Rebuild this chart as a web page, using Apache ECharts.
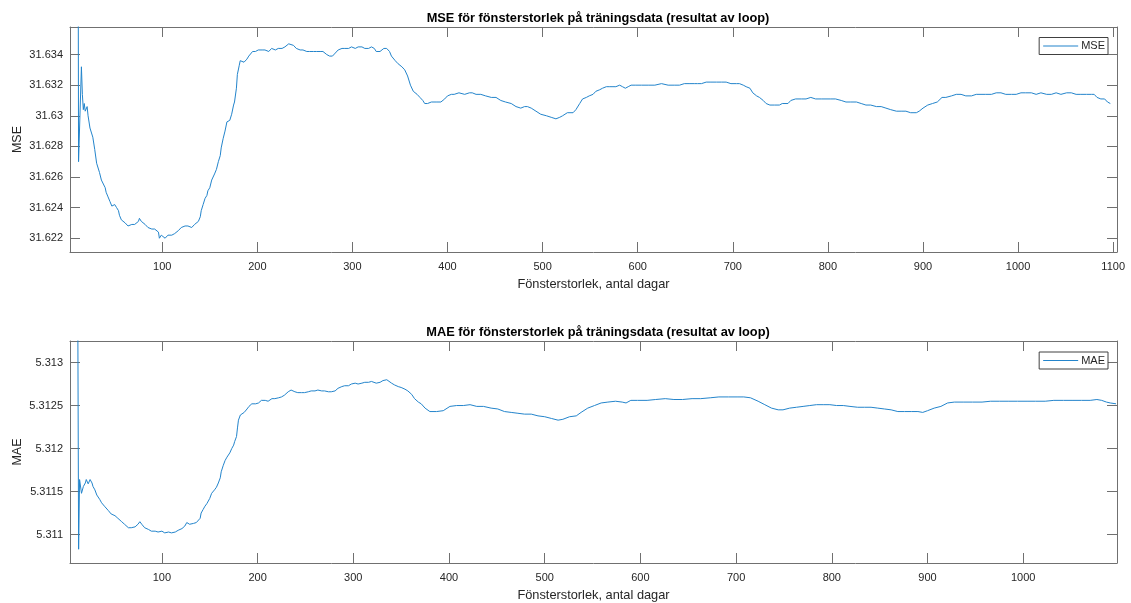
<!DOCTYPE html>
<html><head><meta charset="utf-8">
<script src="https://cdn.jsdelivr.net/npm/echarts@6/dist/echarts.min.js"></script>
<style>html,body{margin:0;padding:0;background:#fff}#c{width:1131px;height:603px}</style>
</head><body><div id="c"></div>
<script>
// ---- data ----
const mseWindow = [4,11,12,15,16,17,18,19,21,22,24,26,27,29,31,33,34,36,38,40,41,43,45,47,48,50,52,54,55,57,59,61,62,64,66,68,69,71,73,75,76,78,80,82,83,85,87,89,90,92,94,96,97,99,101,103,105,106,108,110,112,113,115,117,119,120,122,124,126,127,129,131,133,134,136,138,140,141,143,145,147,148,150,152,154,155,157,159,161,162,164,166,168,169,171,173,175,176,178,179,181,182,184,186,188,189,191,193,195,196,198,201,205,208,212,215,219,222,226,229,233,235,238,241,245,248,252,255,259,262,266,269,273,276,279,282,285,289,292,296,299,303,306,310,313,317,320,323,325,327,329,331,333,336,339,341,345,348,352,355,358,361,364,368,371,374,376,379,383,388,393,397,400,404,407,412,418,423,426,430,435,440,446,451,456,461,467,472,477,481,484,488,493,498,504,509,514,518,521,526,532,535,539,542,546,549,553,556,560,563,567,570,574,577,581,584,587,590,593,598,604,611,618,625,632,639,644,649,654,660,663,667,672,677,683,688,693,698,704,707,711,714,718,721,725,728,732,735,739,744,749,752,758,761,766,772,777,782,787,793,798,803,808,814,819,824,830,835,840,845,851,856,861,866,872,877,882,887,893,896,900,905,910,915,920,924,930,935,940,945,951,956,961,966,972,977,982,987,993,998,1003,1008,1014,1019,1024,1030,1035,1040,1045,1051,1056,1061,1066,1072,1077,1080,1083,1087,1091,1094,1097];
const mseValues = [31.66,31.66,31.6270,31.6332,31.6314,31.6304,31.6308,31.6303,31.6306,31.6300,31.6292,31.6293,31.6286,31.6278,31.6269,31.6268,31.6263,31.6258,31.6258,31.6253,31.6250,31.6247,31.6244,31.6241,31.6240,31.6242,31.6240,31.6238,31.6235,31.6232,31.6231,31.6230,31.6229,31.6228,31.6229,31.6229,31.6230,31.6229,31.6230,31.6231,31.6233,31.6231,31.6230,31.6229,31.6228,31.6227,31.6227,31.6226,31.6227,31.6226,31.6225,31.6224,31.6220,31.6222,31.6223,31.6220,31.6219,31.6222,31.6221,31.6222,31.6221,31.6223,31.6224,31.6225,31.6226,31.6227,31.6228,31.6228,31.6229,31.6228,31.6228,31.6227,31.6228,31.6229,31.6230,31.6231,31.6234,31.6238,31.6242,31.6246,31.6248,31.6251,31.6253,31.6258,31.6259,31.6262,31.6265,31.6270,31.6274,31.6279,31.6285,31.6290,31.6296,31.6297,31.6297,31.6301,31.6307,31.6309,31.6318,31.6327,31.6333,31.6336,31.6335,31.6335,31.6336,31.6337,31.6339,31.6340,31.6342,31.6341,31.6342,31.6343,31.6343,31.6343,31.6342,31.6344,31.6343,31.6344,31.6344,31.6345,31.6347,31.6347,31.6346,31.6344,31.6343,31.6343,31.6342,31.6342,31.6342,31.6342,31.6342,31.6342,31.6340,31.6339,31.6339,31.6341,31.6343,31.6344,31.6344,31.6344,31.6345,31.6344,31.6345,31.6345,31.6344,31.6344,31.6345,31.6344,31.6342,31.6343,31.6342,31.6343,31.6344,31.6344,31.6342,31.6339,31.6336,31.6334,31.6332,31.6330,31.6326,31.6320,31.6316,31.6314,31.6312,31.6310,31.6308,31.6308,31.6309,31.6309,31.6309,31.6311,31.6313,31.6314,31.6314,31.6315,31.6314,31.6315,31.6315,31.6314,31.6314,31.6313,31.6312,31.6312,31.6310,31.6309,31.6308,31.6306,31.6305,31.6306,31.6306,31.6305,31.6303,31.6301,31.6300,31.6299,31.6298,31.6299,31.6300,31.6302,31.6302,31.6304,31.6308,31.6311,31.6312,31.6313,31.6314,31.6316,31.6317,31.6318,31.6319,31.6319,31.6319,31.6319,31.6320,31.6319,31.6318,31.6319,31.6320,31.6320,31.6320,31.6320,31.6320,31.6321,31.6320,31.6320,31.6320,31.6321,31.6321,31.6321,31.6321,31.6321,31.6322,31.6322,31.6322,31.6322,31.6322,31.6321,31.6321,31.6321,31.6320,31.6319,31.6318,31.6315,31.6313,31.6312,31.6310,31.6308,31.6307,31.6307,31.6307,31.6308,31.6308,31.6310,31.6311,31.6311,31.6311,31.6312,31.6311,31.6311,31.6311,31.6311,31.6311,31.6310,31.6309,31.6309,31.6309,31.6308,31.6307,31.6307,31.6306,31.6306,31.6305,31.6304,31.6303,31.6303,31.6303,31.6302,31.6302,31.6303,31.6305,31.6307,31.6308,31.6309,31.6312,31.6312,31.6313,31.6314,31.6314,31.6313,31.6313,31.6314,31.6314,31.6314,31.6314,31.6315,31.6315,31.6314,31.6314,31.6314,31.6315,31.6315,31.6315,31.6314,31.6315,31.6314,31.6314,31.6315,31.6314,31.6315,31.6315,31.6314,31.6314,31.6314,31.6314,31.6314,31.6312,31.6311,31.6311,31.6309,31.6308];
const maeWindow = [4,12,13,14,16,18,20,21,23,25,27,28,30,32,33,35,37,39,40,42,44,46,47,49,51,53,54,56,58,60,61,63,65,67,68,70,72,74,75,77,79,81,82,84,86,87,89,91,93,94,96,98,100,101,103,105,107,108,110,112,114,115,117,119,121,122,124,126,128,129,131,133,134,136,138,140,141,143,145,147,148,150,152,154,155,157,159,161,162,164,166,168,169,171,173,175,176,178,179,180,182,184,186,187,189,191,193,194,196,198,201,204,208,211,215,218,222,225,228,232,235,239,242,246,249,253,256,260,263,267,270,274,277,281,284,288,291,295,298,302,305,309,312,316,319,321,324,328,331,335,337,340,343,347,350,354,357,361,364,368,371,375,380,387,394,401,408,415,422,429,436,444,451,458,465,472,479,486,493,500,507,514,519,526,533,538,545,552,559,566,574,581,585,590,597,607,616,626,635,644,654,663,673,682,692,701,708,715,723,730,737,744,749,756,763,770,777,784,791,798,805,812,819,827,834,841,848,855,862,869,876,883,890,895,900,907,914,921,928,938,947,957,966,975,985,994,1004,1013,1023,1032,1042,1051,1061,1070,1077,1082,1087,1091,1097];
const maeValues = [5.3140,5.3140,5.31083,5.31164,5.31148,5.31156,5.31160,5.31164,5.31159,5.31164,5.31160,5.31156,5.31152,5.31146,5.31144,5.31141,5.31137,5.31136,5.31133,5.31131,5.31128,5.31126,5.31124,5.31124,5.31122,5.31121,5.31119,5.31117,5.31115,5.31114,5.31112,5.31110,5.31108,5.31109,5.31108,5.31110,5.31109,5.31110,5.31112,5.31115,5.31112,5.31110,5.31108,5.31107,5.31106,5.31105,5.31104,5.31105,5.31104,5.31103,5.31103,5.31102,5.31104,5.31103,5.31102,5.31100,5.31103,5.31103,5.31102,5.31102,5.31103,5.31104,5.31105,5.31107,5.31107,5.31109,5.31110,5.31114,5.31112,5.31112,5.31113,5.31113,5.31113,5.31114,5.31115,5.31119,5.31125,5.31129,5.31133,5.31136,5.31138,5.31142,5.31148,5.31149,5.31152,5.31155,5.31160,5.31166,5.31173,5.31180,5.31186,5.31190,5.31191,5.31195,5.31200,5.31204,5.31208,5.31214,5.31224,5.31233,5.31239,5.31241,5.31242,5.31243,5.31246,5.31249,5.31249,5.31252,5.31251,5.31252,5.31253,5.31256,5.31256,5.31255,5.31258,5.31258,5.31259,5.31260,5.31262,5.31266,5.31268,5.31266,5.31265,5.31265,5.31265,5.31266,5.31267,5.31267,5.31268,5.31267,5.31267,5.31266,5.31266,5.31267,5.31270,5.31272,5.31273,5.31273,5.31275,5.31276,5.31275,5.31276,5.31277,5.31277,5.31278,5.31278,5.31276,5.31277,5.31279,5.31280,5.31279,5.31276,5.31274,5.31272,5.31271,5.31269,5.31267,5.31263,5.31258,5.31254,5.31252,5.31247,5.31243,5.31243,5.31244,5.31249,5.31250,5.31250,5.31251,5.31249,5.31249,5.31247,5.31246,5.31243,5.31242,5.31241,5.31240,5.31240,5.31238,5.31237,5.31235,5.31233,5.31234,5.31237,5.31238,5.31242,5.31247,5.31250,5.31253,5.31254,5.31255,5.31254,5.31253,5.31256,5.31256,5.31256,5.31257,5.31258,5.31257,5.31257,5.31258,5.31258,5.31259,5.31260,5.31260,5.31260,5.31260,5.31259,5.31255,5.31251,5.31247,5.31245,5.31245,5.31247,5.31248,5.31249,5.31250,5.31251,5.31251,5.31251,5.31250,5.31250,5.31249,5.31248,5.31248,5.31248,5.31247,5.31246,5.31245,5.31243,5.31243,5.31243,5.31243,5.31242,5.31244,5.31247,5.31249,5.31253,5.31254,5.31254,5.31254,5.31254,5.31255,5.31255,5.31255,5.31255,5.31255,5.31255,5.31255,5.31256,5.31256,5.31256,5.31256,5.31256,5.31257,5.31256,5.31254,5.31253,5.31252];
const titles = ['MSE för fönsterstorlek på träningsdata (resultat av loop)', 'MAE för fönsterstorlek på träningsdata (resultat av loop)'];
const seriesNames = ['MSE', 'MAE'];
const xAxisName = 'Fönsterstorlek, antal dagar';
const xRanges = [[3, 1104], [4, 1098]];
const yRanges = [[31.6211, 31.6358], [5.31067, 5.31325]];
const xTickStep = 100;
const yTickSteps = [0.002, 0.0005];

// ---- chart ----
const FONT = '"Liberation Sans", Arial, Helvetica, sans-serif';
const TXT = '#262626';
const AX = '#707070';
const LINE = '#2384cb';
const grids = [
  {left: 70, top: 27, width: 1047, height: 225, outerBoundsMode: 'none', containLabel: false},
  {left: 70, top: 341, width: 1047, height: 222, outerBoundsMode: 'none', containLabel: false}
];
const fmtY = v => String(parseFloat(Number(v).toFixed(6)));

const xAxes = [], yAxes = [], series = [], legends = [], titleArr = [];
const dataSets = [[mseWindow, mseValues], [maeWindow, maeValues]];
for (let i = 0; i < 2; i++) {
  const baseX = {
    type: 'value', gridIndex: i, min: xRanges[i][0], max: xRanges[i][1],
    minInterval: xTickStep, maxInterval: xTickStep, splitNumber: 11,
    splitLine: {show: false},
    axisLine: {show: true, onZero: false, lineStyle: {color: AX, width: 1}},
    axisTick: {show: true, inside: true, length: 10, lineStyle: {color: AX, width: 1}}
  };
  xAxes.push(Object.assign({}, baseX, {
    position: 'bottom',
    axisLabel: {show: true, margin: 9, color: TXT, fontSize: 11, fontFamily: FONT,
      showMinLabel: false, showMaxLabel: false, formatter: v => String(Math.round(v))},
    name: xAxisName, nameLocation: 'middle', nameGap: 26,
    nameTextStyle: {color: TXT, fontSize: 12.8, fontFamily: FONT}
  }));
  xAxes.push(Object.assign({}, baseX, {position: 'top', axisLabel: {show: false}}));
  const baseY = {
    type: 'value', gridIndex: i, min: yRanges[i][0], max: yRanges[i][1],
    minInterval: yTickSteps[i], maxInterval: yTickSteps[i], splitNumber: 8,
    scale: true, splitLine: {show: false},
    axisLine: {show: true, onZero: false, lineStyle: {color: AX, width: 1}},
    axisTick: {show: true, inside: true, length: 10, lineStyle: {color: AX, width: 1}}
  };
  yAxes.push(Object.assign({}, baseY, {
    position: 'left',
    axisLabel: {show: true, margin: 7, color: TXT, fontSize: 11, fontFamily: FONT,
      showMinLabel: false, showMaxLabel: false, formatter: fmtY},
    name: seriesNames[i], nameLocation: 'middle', nameGap: 46, nameRotate: 90,
    nameMoveOverlap: false,
    nameTextStyle: {color: TXT, fontSize: 12.5, fontFamily: FONT}
  }));
  yAxes.push(Object.assign({}, baseY, {position: 'right', axisLabel: {show: false}}));
  const [xs, ys] = dataSets[i];
  series.push({
    name: seriesNames[i], type: 'line', xAxisIndex: 2 * i, yAxisIndex: 2 * i,
    data: xs.map((x, k) => [x, ys[k]]),
    symbol: 'none', showSymbol: false, clip: true, smooth: false,
    lineStyle: {color: LINE, width: 1}, itemStyle: {color: LINE},
    animation: false
  });
  legends.push({
    data: [seriesNames[i]], right: 23, top: i === 0 ? 37.5 : 352,
    icon: 'rect', itemWidth: 35, itemHeight: 1, itemGap: 0,
    itemStyle: {color: LINE, borderWidth: 0},
    padding: [3, 3, 3, 4], borderColor: '#404040', borderWidth: 1, backgroundColor: '#fff',
    textStyle: {color: TXT, fontSize: 11, fontFamily: FONT, padding: [0, 0, 0, -2]}
  });
  titleArr.push({
    text: titles[i], left: 593, top: i === 0 ? 7 : 321, textAlign: 'center',
    textStyle: {color: '#000', fontSize: 12.8, fontWeight: 'bold', fontFamily: FONT}
  });
}

const chart = echarts.init(document.getElementById('c'), null, {renderer: 'canvas'});
chart.setOption({
  backgroundColor: '#fff',
  animation: false,
  title: titleArr,
  legend: legends,
  grid: grids,
  xAxis: xAxes,
  yAxis: yAxes,
  series: series
});
</script>
</body></html>
